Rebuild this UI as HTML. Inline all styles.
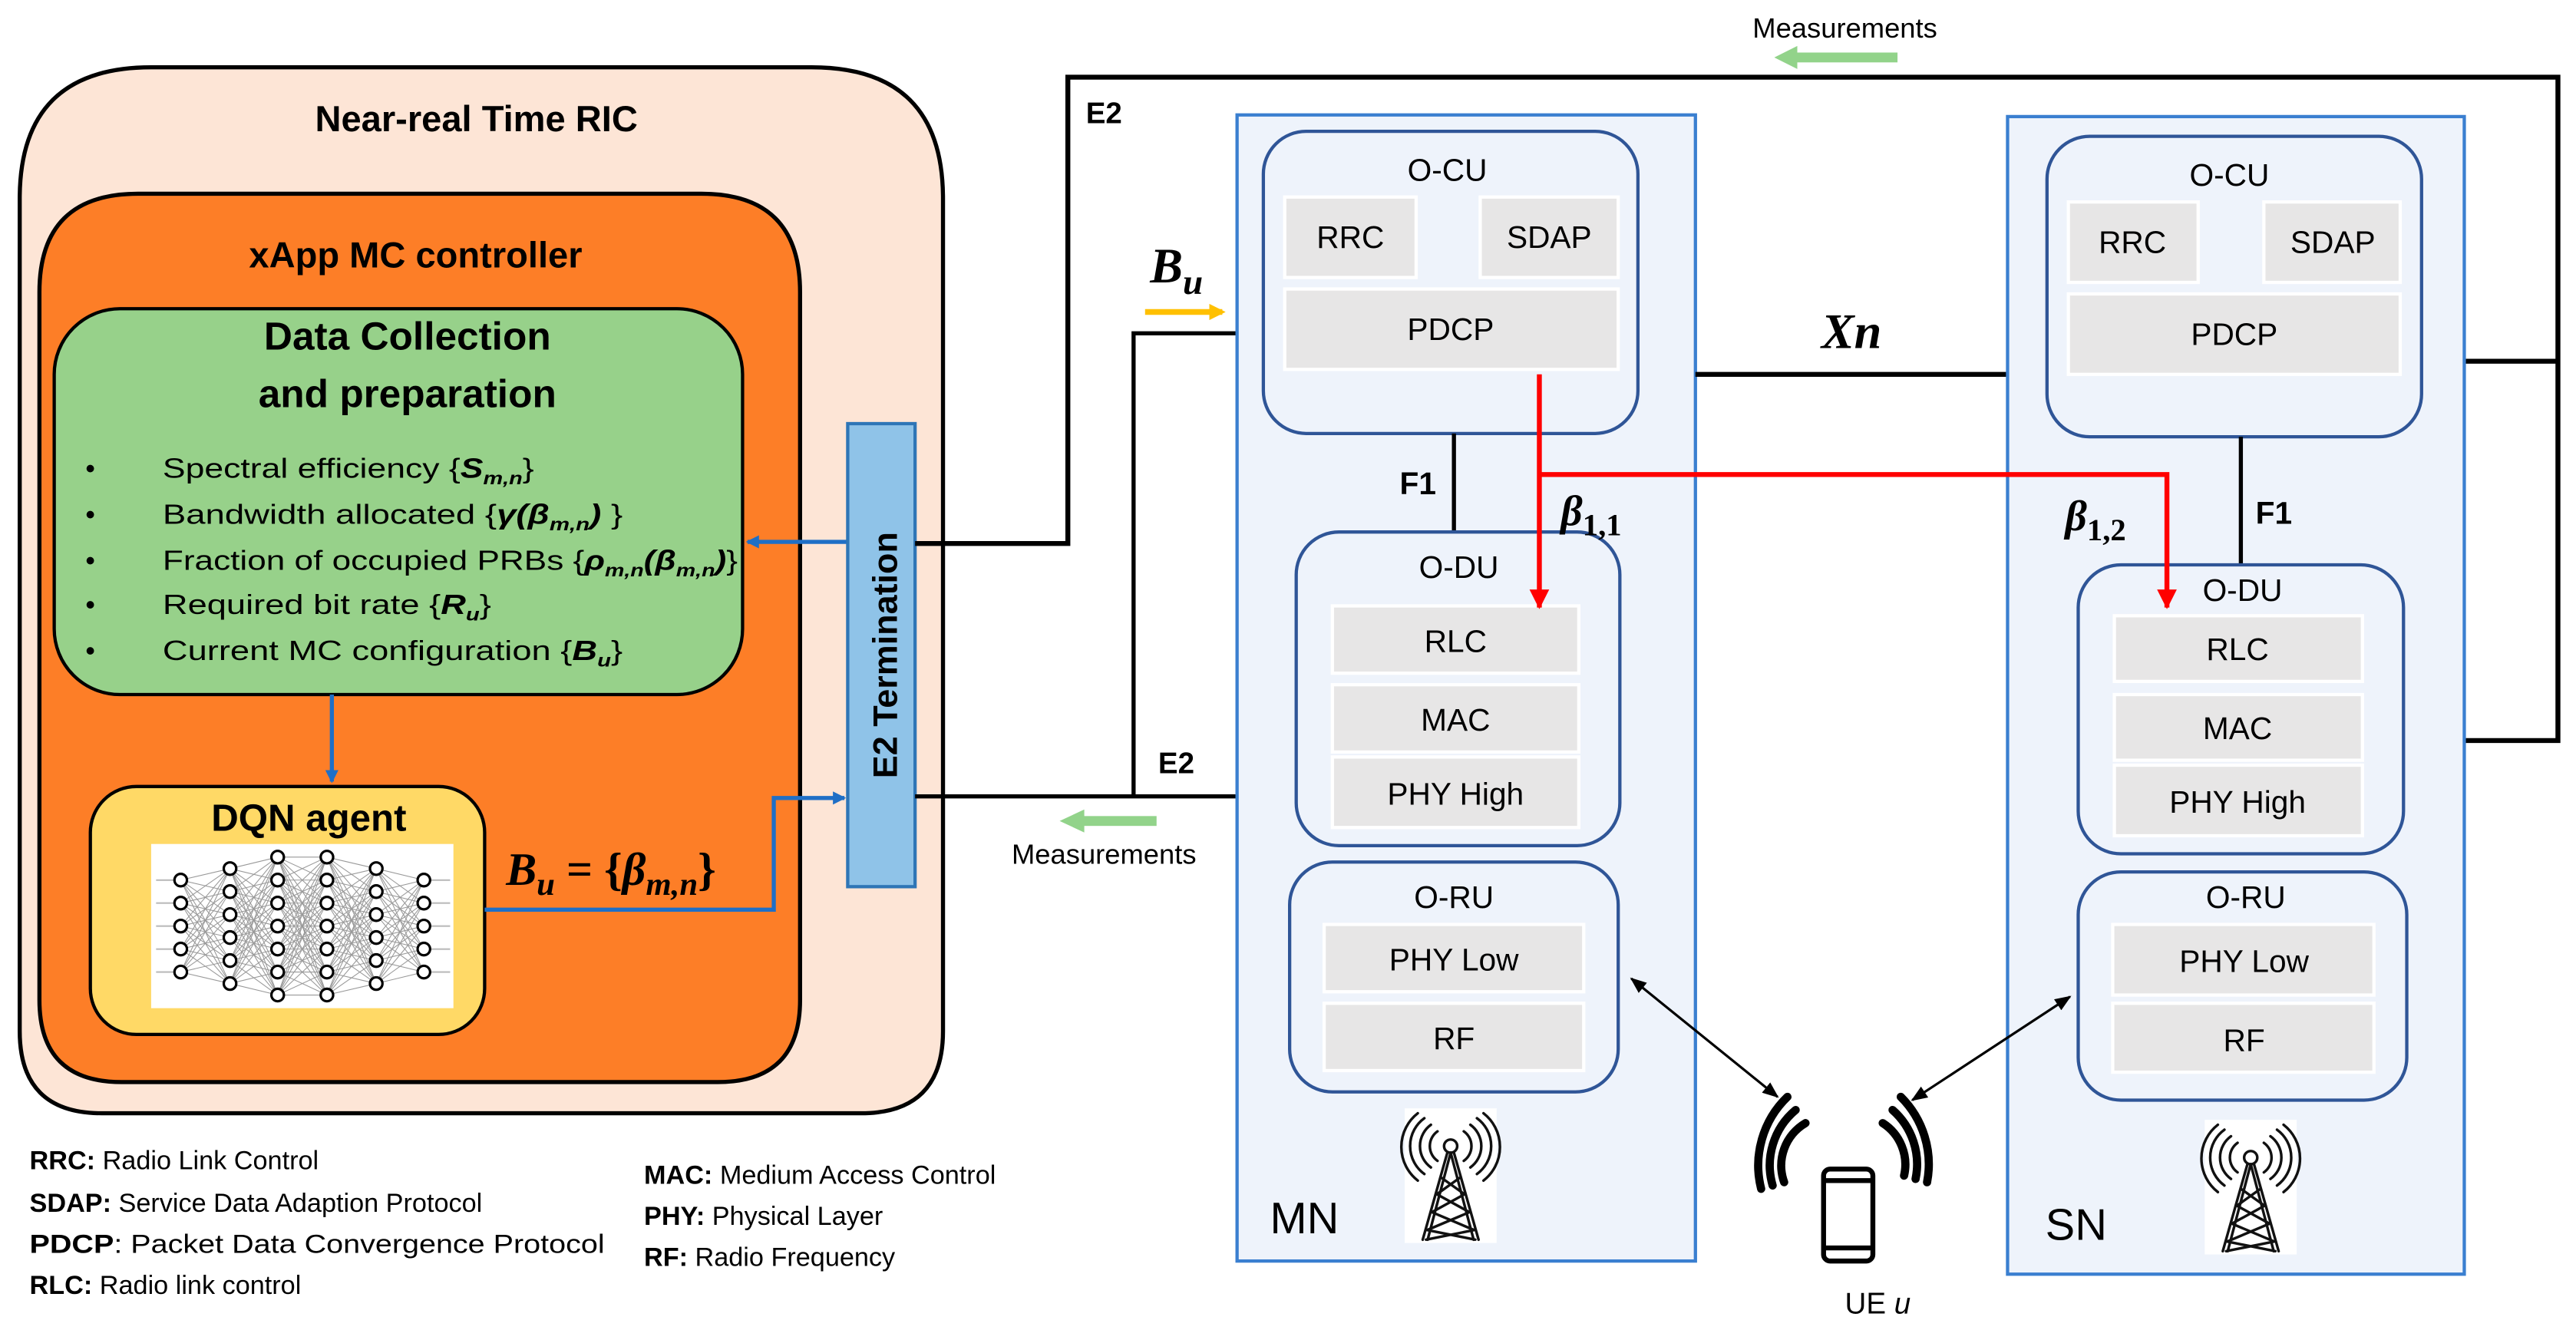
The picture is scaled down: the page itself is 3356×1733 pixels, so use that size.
<!DOCTYPE html>
<html><head><meta charset="utf-8">
<style>
html,body{margin:0;padding:0;background:#fff;}
svg{display:block;}
text{font-family:"Liberation Sans",sans-serif;fill:#000;}
.b{font-weight:bold;}
.m{font-family:"Liberation Serif",serif;font-weight:bold;font-style:italic;}
.lay{fill:#e7e6e6;stroke:#fff;stroke-width:2;}
.sub{fill:#eef3fb;stroke:#2f5597;stroke-width:2;}
</style></head>
<body>
<svg id="s" width="3356" height="1733" viewBox="0 0 1568 810" preserveAspectRatio="none" xmlns="http://www.w3.org/2000/svg">
<defs>
<marker id="ab" markerWidth="8" markerHeight="8" refX="7" refY="4" orient="auto" markerUnits="userSpaceOnUse"><path d="M0,0 L8,4 L0,8 z" fill="#1f6fc6"/></marker>
<marker id="ar" markerWidth="12" markerHeight="12" refX="11" refY="6" orient="auto" markerUnits="userSpaceOnUse"><path d="M0,0 L12,6 L0,12 z" fill="#ff0000"/></marker>
<marker id="ak" markerWidth="10" markerHeight="10" refX="9" refY="5" orient="auto-start-reverse" markerUnits="userSpaceOnUse"><path d="M0,1 L10,5 L0,9 z" fill="#000"/></marker>
<marker id="ay" markerWidth="10" markerHeight="10" refX="8" refY="5" orient="auto" markerUnits="userSpaceOnUse"><path d="M0,0 L10,5 L0,10 z" fill="#ffc000"/></marker>
<g id="tower">
<rect x="0" y="0" width="56" height="82" fill="#fff"/>
<g fill="none" stroke="#111" stroke-width="1.6" stroke-linecap="round">
<circle cx="28" cy="23" r="4"/>
<path d="M26,27 L11,80 M30,27 L45,80 M28,27 L14,80 M28,27 L42,80"/>
<path d="M22,42 L36,52 M34,42 L20,52 M19,52 L39,63 M37,52 L17,63 M16,63 L42,74 M40,63 L14,74 M13,74 L43,80 M43,74 L13,80"/>
<path d="M20,14 A11,11 0 0 0 20,32 M16,10 A16,16 0 0 0 16,36 M12,6 A21,21 0 0 0 12,40 M8,3 A26,26 0 0 0 8,44"/>
<path d="M36,14 A11,11 0 0 1 36,32 M40,10 A16,16 0 0 1 40,36 M44,6 A21,21 0 0 1 44,40 M48,3 A26,26 0 0 1 48,44"/>
</g>
</g>
</defs>

<!-- top Measurements -->
<text x="1123" y="23" font-size="17" text-anchor="middle">Measurements</text>
<rect x="1092" y="32" width="63" height="6" fill="#92d38a"/>
<polygon points="1080,35 1094,28 1094,42" fill="#92d38a"/>

<!-- RIC -->
<path d="M92,41 H494 Q574,41 574,121 V628 Q574,678 524,678 H62 Q12,678 12,628 V121 Q12,41 92,41 Z" fill="#fde5d6" stroke="#000" stroke-width="2.5"/>
<text x="290" y="80" font-size="22" class="b" text-anchor="middle">Near-real Time RIC</text>
<path d="M84,118 H427 Q487,118 487,178 V609 Q487,659 437,659 H74 Q24,659 24,609 V178 Q24,118 84,118 Z" fill="#fd7e27" stroke="#000" stroke-width="2.5"/>
<text x="253" y="163" font-size="22" class="b" text-anchor="middle">xApp MC controller</text>
<rect x="33" y="188" width="419" height="235" rx="40" fill="#97d18a" stroke="#000" stroke-width="2"/>
<text x="248" y="213" font-size="24" class="b" text-anchor="middle">Data Collection</text>
<text x="248" y="248" font-size="24" class="b" text-anchor="middle">and preparation</text>
<g font-size="17">
<text x="52" y="291">•</text><text x="52" y="319">•</text><text x="52" y="347">•</text><text x="52" y="374">•</text><text x="52" y="402">•</text>
<text x="99" y="291" textLength="226" lengthAdjust="spacingAndGlyphs">Spectral efficiency {<tspan font-weight="bold" font-style="italic">S</tspan><tspan font-size="11" font-weight="bold" font-style="italic" dy="4">m,n</tspan><tspan dy="-4">}</tspan></text>
<text x="99" y="319" textLength="280" lengthAdjust="spacingAndGlyphs">Bandwidth allocated {<tspan font-weight="bold" font-style="italic">γ(β</tspan><tspan font-size="11" font-weight="bold" font-style="italic" dy="4">m,n</tspan><tspan dy="-4" font-weight="bold" font-style="italic">)</tspan> }</text>
<text x="99" y="347" textLength="350" lengthAdjust="spacingAndGlyphs">Fraction of occupied PRBs {<tspan font-weight="bold" font-style="italic">ρ</tspan><tspan font-size="11" font-weight="bold" font-style="italic" dy="4">m,n</tspan><tspan dy="-4" font-weight="bold" font-style="italic">(β</tspan><tspan font-size="11" font-weight="bold" font-style="italic" dy="4">m,n</tspan><tspan dy="-4" font-weight="bold" font-style="italic">)</tspan>}</text>
<text x="99" y="374" textLength="200" lengthAdjust="spacingAndGlyphs">Required bit rate {<tspan font-weight="bold" font-style="italic">R</tspan><tspan font-size="11" font-weight="bold" font-style="italic" dy="4">u</tspan><tspan dy="-4">}</tspan></text>
<text x="99" y="402" textLength="280" lengthAdjust="spacingAndGlyphs">Current MC configuration {<tspan font-weight="bold" font-style="italic">B</tspan><tspan font-size="11" font-weight="bold" font-style="italic" dy="4">u</tspan><tspan dy="-4">}</tspan></text>
</g>
<line x1="202" y1="423" x2="202" y2="476" stroke="#1f6fc6" stroke-width="2.5" marker-end="url(#ab)"/>
<rect x="55" y="479" width="240" height="151" rx="28" fill="#ffd966" stroke="#000" stroke-width="2"/>
<text x="188" y="506" font-size="23" class="b" text-anchor="middle">DQN agent</text>
<rect x="92" y="514" width="184" height="100" fill="#fff"/>
<g id="nn"></g>
<text x="308" y="539" font-size="28" class="m">B<tspan font-size="20" dy="6">u</tspan><tspan dy="-6" font-style="normal" font-weight="bold"> = {</tspan>β<tspan font-size="20" dy="6">m,n</tspan><tspan dy="-6" font-style="normal">}</tspan></text>
<polyline points="295,554 471,554 471,486 514,486" fill="none" stroke="#1f6fc6" stroke-width="2.5" marker-end="url(#ab)"/>
<line x1="516" y1="330" x2="455" y2="330" stroke="#1f6fc6" stroke-width="2.5" marker-end="url(#ab)"/>
<rect x="516" y="258" width="41" height="282" fill="#8fc3e8" stroke="#2e75b6" stroke-width="2"/>
<text transform="translate(546,399) rotate(-90)" font-size="21" class="b" text-anchor="middle" fill="#1a1a2e">E2 Termination</text>

<!-- E2 lines -->
<polyline points="557,331 650,331 650,47 1557,47 1557,451 1464,451" fill="none" stroke="#000" stroke-width="3"/>
<line x1="1557" y1="220" x2="1474" y2="220" stroke="#000" stroke-width="3"/>
<text x="661" y="75" font-size="18" class="b">E2</text>
<line x1="557" y1="485" x2="789" y2="485" stroke="#000" stroke-width="2.5"/>
<polyline points="690,485 690,203 769,203" fill="none" stroke="#000" stroke-width="2.5"/>
<text x="705" y="471" font-size="18" class="b">E2</text>
<line x1="697" y1="190" x2="744" y2="190" stroke="#ffc000" stroke-width="3.5" marker-end="url(#ay)"/>
<text x="700" y="172" font-size="30" class="m">B<tspan font-size="22" dy="7">u</tspan></text>
<rect x="658" y="497" width="46" height="6" fill="#92d38a"/>
<polygon points="645,500 660,493 660,507" fill="#92d38a"/>
<text x="672" y="526" font-size="17" text-anchor="middle">Measurements</text>

<!-- MN -->
<rect x="753" y="70" width="279" height="698" fill="#eef3fb" stroke="#3a7fd0" stroke-width="2"/>
<rect x="769" y="80" width="228" height="184" rx="26" class="sub"/>
<text x="881" y="110" font-size="19" text-anchor="middle">O-CU</text>
<rect x="782" y="120" width="80" height="49" class="lay"/><rect x="901" y="120" width="84" height="49" class="lay"/>
<rect x="782" y="176" width="203" height="49" class="lay"/>
<text x="822" y="151" font-size="19" text-anchor="middle">RRC</text>
<text x="943" y="151" font-size="19" text-anchor="middle">SDAP</text>
<text x="883" y="207" font-size="19" text-anchor="middle">PDCP</text>
<line x1="885" y1="264" x2="885" y2="324" stroke="#000" stroke-width="2.5"/>
<text x="852" y="301" font-size="19" class="b">F1</text>
<rect x="789" y="324" width="197" height="191" rx="26" class="sub"/>
<text x="888" y="352" font-size="19" text-anchor="middle">O-DU</text>
<rect x="811" y="369" width="150" height="41" class="lay"/><rect x="811" y="417" width="150" height="41" class="lay"/><rect x="811" y="461" width="150" height="43" class="lay"/>
<text x="886" y="397" font-size="19" text-anchor="middle">RLC</text>
<text x="886" y="445" font-size="19" text-anchor="middle">MAC</text>
<text x="886" y="490" font-size="19" text-anchor="middle">PHY High</text>
<rect x="785" y="525" width="200" height="140" rx="26" class="sub"/>
<text x="885" y="553" font-size="19" text-anchor="middle">O-RU</text>
<rect x="806" y="563" width="158" height="41" class="lay"/><rect x="806" y="611" width="158" height="41" class="lay"/>
<text x="885" y="591" font-size="19" text-anchor="middle">PHY Low</text>
<text x="885" y="639" font-size="19" text-anchor="middle">RF</text>
<text x="773" y="751" font-size="27">MN</text>
<use href="#tower" x="855" y="675"/>

<!-- Xn -->
<line x1="1032" y1="228" x2="1222" y2="228" stroke="#000" stroke-width="3"/>
<text x="1127" y="212" font-size="30" class="m" text-anchor="middle">Xn</text>

<!-- SN -->
<rect x="1222" y="71" width="278" height="705" fill="#eef3fb" stroke="#3a7fd0" stroke-width="2"/>
<rect x="1246" y="83" width="228" height="183" rx="26" class="sub"/>
<text x="1357" y="113" font-size="19" text-anchor="middle">O-CU</text>
<rect x="1259" y="123" width="79" height="49" class="lay"/><rect x="1378" y="123" width="83" height="49" class="lay"/>
<rect x="1259" y="179" width="202" height="49" class="lay"/>
<text x="1298" y="154" font-size="19" text-anchor="middle">RRC</text>
<text x="1420" y="154" font-size="19" text-anchor="middle">SDAP</text>
<text x="1360" y="210" font-size="19" text-anchor="middle">PDCP</text>
<line x1="1364" y1="266" x2="1364" y2="344" stroke="#000" stroke-width="2.5"/>
<text x="1373" y="319" font-size="19" class="b">F1</text>
<rect x="1265" y="344" width="198" height="176" rx="26" class="sub"/>
<text x="1365" y="366" font-size="19" text-anchor="middle">O-DU</text>
<rect x="1287" y="375" width="151" height="40" class="lay"/><rect x="1287" y="423" width="151" height="40" class="lay"/><rect x="1287" y="466" width="151" height="43" class="lay"/>
<text x="1362" y="402" font-size="19" text-anchor="middle">RLC</text>
<text x="1362" y="450" font-size="19" text-anchor="middle">MAC</text>
<text x="1362" y="495" font-size="19" text-anchor="middle">PHY High</text>
<rect x="1265" y="531" width="200" height="139" rx="26" class="sub"/>
<text x="1367" y="553" font-size="19" text-anchor="middle">O-RU</text>
<rect x="1286" y="563" width="159" height="43" class="lay"/><rect x="1286" y="611" width="159" height="42" class="lay"/>
<text x="1366" y="592" font-size="19" text-anchor="middle">PHY Low</text>
<text x="1366" y="640" font-size="19" text-anchor="middle">RF</text>
<text x="1245" y="755" font-size="27">SN</text>
<use href="#tower" x="1342" y="682"/>

<!-- red arrows -->
<line x1="937" y1="228" x2="937" y2="370" stroke="#ff0000" stroke-width="3" marker-end="url(#ar)"/>
<polyline points="937,289 1319,289 1319,370" fill="none" stroke="#ff0000" stroke-width="3" marker-end="url(#ar)"/>
<text x="950" y="320" font-size="26" class="m">β<tspan font-size="19" font-style="normal" dy="6">1,1</tspan></text>
<text x="1257" y="323" font-size="26" class="m">β<tspan font-size="19" font-style="normal" dy="6">1,2</tspan></text>

<!-- UE -->
<line x1="993" y1="596" x2="1082" y2="668" stroke="#000" stroke-width="1.5" marker-start="url(#ak)" marker-end="url(#ak)"/>
<line x1="1260" y1="607" x2="1164" y2="670" stroke="#000" stroke-width="1.5" marker-start="url(#ak)" marker-end="url(#ak)"/>
<g fill="none" stroke="#000" stroke-width="5" stroke-linecap="round">
<path d="M1099,684 A30,30 0 0 0 1086,720"/><path d="M1093,676 A44,44 0 0 0 1079,722"/><path d="M1088,668 A58,58 0 0 0 1072,724"/>
<path d="M1146,684 A30,30 0 0 1 1159,716"/><path d="M1152,676 A44,44 0 0 1 1166,718"/><path d="M1157,668 A58,58 0 0 1 1173,720"/>
</g>
<rect x="1110" y="712" width="30" height="56" rx="4" fill="#fff" stroke="#000" stroke-width="3"/>
<line x1="1111" y1="719" x2="1139" y2="719" stroke="#000" stroke-width="3"/>
<line x1="1111" y1="760" x2="1139" y2="760" stroke="#000" stroke-width="3"/>
<text x="1123" y="800" font-size="18">UE <tspan font-style="italic">u</tspan></text>

<!-- legend -->
<g font-size="16">
<text x="18" y="712"><tspan class="b">RRC:</tspan> Radio Link Control</text>
<text x="18" y="738"><tspan class="b">SDAP:</tspan> Service Data Adaption Protocol</text>
<text x="18" y="763" textLength="350" lengthAdjust="spacingAndGlyphs"><tspan class="b">PDCP</tspan>: Packet Data Convergence Protocol</text>
<text x="18" y="788"><tspan class="b">RLC:</tspan> Radio link control</text>
<text x="392" y="721"><tspan class="b">MAC:</tspan> Medium Access Control</text>
<text x="392" y="746"><tspan class="b">PHY:</tspan> Physical Layer</text>
<text x="392" y="771"><tspan class="b">RF:</tspan> Radio Frequency</text>
</g>
</svg>
<script>
(function(){
var g=document.getElementById('nn');
var xs=[110,140,169,199,229,258],cnt=[5,6,7,7,6,5],cy=564,sp=14,L=[];
for(var i=0;i<6;i++){var a=[];for(var j=0;j<cnt[i];j++)a.push(cy+(j-(cnt[i]-1)/2)*sp);L.push(a);}
var h='';
for(var i=0;i<5;i++)for(var j=0;j<L[i].length;j++)for(var k=0;k<L[i+1].length;k++)
h+='<line x1="'+xs[i]+'" y1="'+L[i][j]+'" x2="'+xs[i+1]+'" y2="'+L[i+1][k]+'" stroke="#999" stroke-width="0.5"/>';
for(var j=0;j<5;j++){h+='<line x1="95" y1="'+L[0][j]+'" x2="110" y2="'+L[0][j]+'" stroke="#bbb" stroke-width="1"/>';h+='<line x1="258" y1="'+L[5][j]+'" x2="274" y2="'+L[5][j]+'" stroke="#bbb" stroke-width="1"/>';}
for(var i=0;i<6;i++)for(var j=0;j<L[i].length;j++)h+='<circle cx="'+xs[i]+'" cy="'+L[i][j]+'" r="3.8" fill="#fff" stroke="#000" stroke-width="1.5"/>';
g.innerHTML=h;
})();
</script>
</body></html>
